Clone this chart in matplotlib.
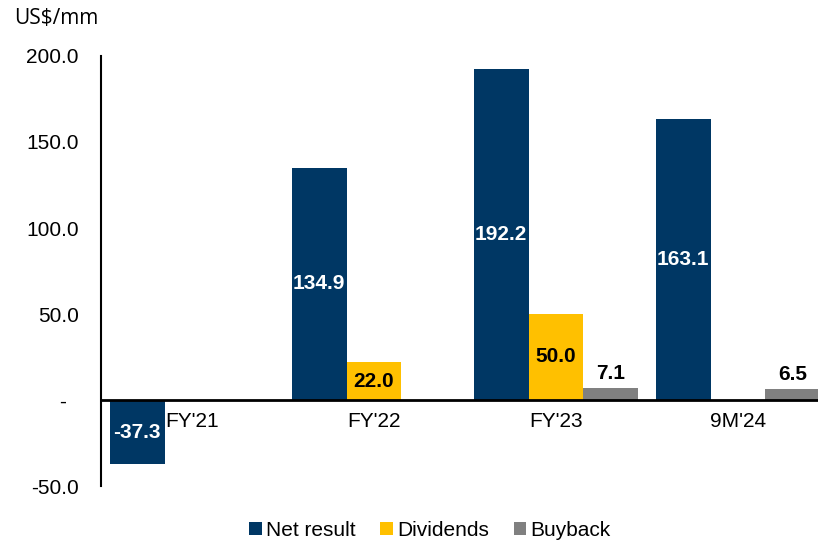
import numpy as np
import matplotlib.pyplot as plt
from matplotlib.ticker import FuncFormatter

plt.rcParams['font.family'] = ['Liberation Sans', 'DejaVu Sans']

periods = ["FY'21", "FY'22", "FY'23", "9M'24"]
net_result = [-37.3, 134.9, 192.2, 163.1]
dividends = [0.0, 22.0, 50.0, 0.0]
buyback = [0.0, 0.0, 7.1, 6.5]

NAVY = "#003764"
GOLD = "#FFC000"
GREY = "#808080"

fig = plt.figure(figsize=(8.18, 5.42), dpi=100)
# axes runs a little past the right edge of the figure
ax = fig.add_axes([101 / 818, 56 / 542, 728 / 818, 430 / 542])

x = np.arange(len(periods))
w = 0.302

b_net = ax.bar(x - w, net_result, w, color=NAVY, label="Net result")
b_div = ax.bar(x, dividends, w, color=GOLD, label="Dividends")
b_buy = ax.bar(x + w, buyback, w, color=GREY, label="Buyback")

for rect, v in zip(b_net, net_result):
    ax.text(rect.get_x() + rect.get_width() / 2, v / 2, f"{v:.1f}",
            ha="center", va="center", color="white", fontsize=15, fontweight="bold")
for rect, v in zip(b_div, dividends):
    if v:
        ax.text(rect.get_x() + rect.get_width() / 2, v / 2, f"{v:.1f}",
                ha="center", va="center", color="black", fontsize=15, fontweight="bold")
for rect, v in zip(b_buy, buyback):
    if v:
        ax.text(rect.get_x() + rect.get_width() / 2, v + 3, f"{v:.1f}",
                ha="center", va="bottom", color="black", fontsize=15, fontweight="bold")

# category names sit just under the zero line
for xi, name in zip(x, periods):
    ax.text(xi, -7, name, ha="center", va="top", fontsize=15)

ax.axhline(0, color="black", lw=2, zorder=3)
ax.set_xlim(-0.5, 3.5)
ax.set_ylim(-50, 200)
ax.set_yticks([-50, 0, 50, 100, 150, 200])
ax.yaxis.set_major_formatter(FuncFormatter(lambda v, p: "-  " if v == 0 else f"{v:.1f}"))
ax.tick_params(axis="y", length=0, labelsize=15, pad=16)
ax.set_xticks([])
for s in ["top", "right", "bottom"]:
    ax.spines[s].set_visible(False)
ax.spines["left"].set_linewidth(1.5)

fig.text(14 / 818, 1 - 18 / 542, "US$/mm", fontsize=15, va="center", ha="left",
         family=["Open Sans", "DejaVu Sans"])

fig.legend(handles=[b_net, b_div, b_buy], loc="center", bbox_to_anchor=(430 / 818, 1 - 530 / 542),
           ncol=3, frameon=False, fontsize=15, handlelength=0.6, handleheight=0.6,
           handletextpad=0.2, columnspacing=1.2)

fig.savefig("out.png", dpi=100)
